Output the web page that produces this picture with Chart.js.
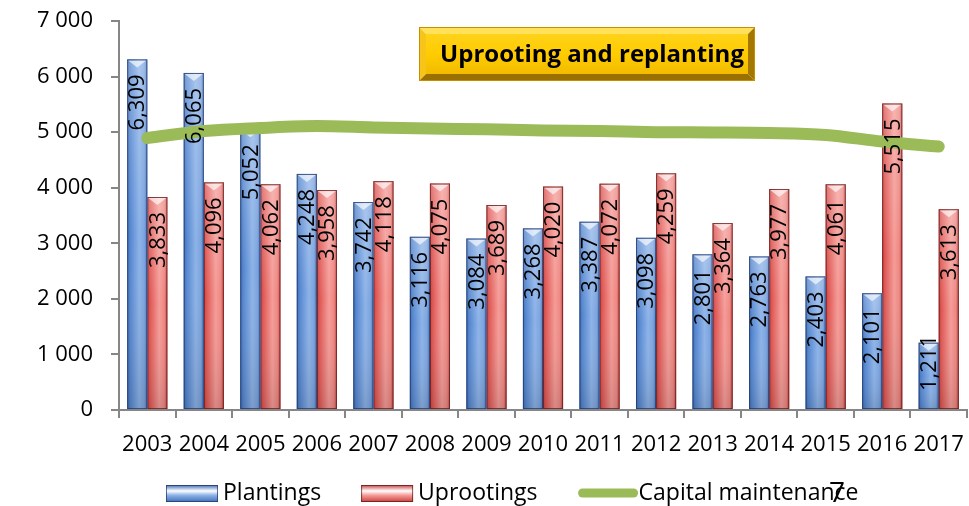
<!DOCTYPE html>
<html>
<head>
<meta charset="utf-8">
<script src="https://cdn.jsdelivr.net/npm/chart.js@4/dist/chart.umd.min.js"></script>
<style>
  html, body { margin: 0; padding: 0; background: #fff; }
  #wrap { width: 969px; height: 506px; }
</style>
</head>
<body>
<div id="wrap"><canvas id="graph" width="969" height="506"></canvas></div>
<script>
var ctx = document.getElementById('graph').getContext('2d');

const years = ['2003', '2004', '2005', '2006', '2007', '2008', '2009', '2010', '2011', '2012', '2013', '2014', '2015', '2016', '2017'];
const plantings = [6309, 6065, 5052, 4248, 3742, 3116, 3084, 3268, 3387, 3098, 2801, 2763, 2403, 2101, 1211];
const uprootings = [3833, 4096, 4062, 3958, 4118, 4075, 3689, 4020, 4072, 4259, 3364, 3977, 4061, 5515, 3613];
const capitalMaintenance = [4895, 5020, 5075, 5110, 5085, 5065, 5050, 5030, 5020, 5000, 4995, 4985, 4950, 4830, 4740];
const titleText = 'Uprooting and replanting';
const pageNumber = '7';

const FONT = '"Open Sans", "DejaVu Sans", sans-serif';

const barShades = {
    blue: { h: ['#3F6DB5', '#5587D0', '#8DB3E8', '#7CA4DE', '#4C78BE'], edge: 'rgba(30,50,100,0.7)' },
    red: { h: ['#C9403D', '#E05A56', '#F59C98', '#EE8782', '#C44A47'], edge: 'rgba(90,20,20,0.7)' }
};

function fmtThousands(v) {
    return String(v).replace(/\B(?=(\d{3})+(?!\d))/g, ' ');
}
function fmtComma(v) {
    return String(v).replace(/\B(?=(\d{3})+(?!\d))/g, ',');
}

// paints the glossy look over the bars chart.js has drawn
const barStyle = {
    id: 'barStyle',
    afterDatasetDraw(chart, args) {
        const meta = args.meta;
        if (meta.type !== 'bar') return;
        const shade = barShades[chart.data.datasets[args.index].shade];
        const c = chart.ctx;
        c.save();
        meta.data.forEach(function (el) {
            const x0 = el.x - el.width / 2, x1 = el.x + el.width / 2;
            const top = el.y, base = el.base;
            const g = c.createLinearGradient(x0, 0, x1, 0);
            [0, 0.15, 0.6, 0.85, 1].forEach(function (s, i) { g.addColorStop(s, shade.h[i]); });
            c.fillStyle = g;
            c.fillRect(x0, top, el.width, base - top);
            const v = c.createLinearGradient(0, top, 0, base);
            v.addColorStop(0, 'rgba(255,255,255,0.25)');
            v.addColorStop(0.5, 'rgba(255,255,255,0)');
            v.addColorStop(1, 'rgba(0,0,0,0.12)');
            c.fillStyle = v;
            c.fillRect(x0, top, el.width, base - top);
            // small bevel at top
            c.fillStyle = 'rgba(255,255,255,0.65)';
            c.beginPath();
            c.moveTo(x0 + 1, top + 1);
            c.lineTo(x1 - 1, top + 1);
            c.lineTo(el.x, top + 8);
            c.closePath();
            c.fill();
            c.strokeStyle = shade.edge;
            c.lineWidth = 1;
            c.strokeRect(x0 + 0.5, top + 0.5, el.width - 1, base - top - 1);
        });
        c.restore();
    },
    afterDatasetsDraw(chart) {
        const c = chart.ctx;
        c.save();
        c.font = '22px ' + FONT;
        c.fillStyle = '#000';
        c.textAlign = 'right';
        c.textBaseline = 'middle';
        chart.data.datasets.forEach(function (ds, di) {
            const meta = chart.getDatasetMeta(di);
            if (meta.type !== 'bar') return;
            meta.data.forEach(function (el, i) {
                const txt = fmtComma(ds.data[i]);
                const w = c.measureText(txt).width;
                let end = el.y + 15;
                if (end + w > el.base - 18) end = el.base - 18 - w;
                c.save();
                c.translate(el.x + 1, end);
                c.rotate(-Math.PI / 2);
                c.fillText(txt, 0, 0);
                c.restore();
            });
        });
        c.restore();
    }
};

const titleBox = {
    id: 'titleBox',
    afterDraw(chart) {
        const c = chart.ctx;
        const x = 419, y = 27, w = 336, h = 54, b = 7;
        c.save();
        function poly(pts, col) {
            c.fillStyle = col;
            c.beginPath();
            c.moveTo(pts[0][0], pts[0][1]);
            for (let i = 1; i < pts.length; i++) c.lineTo(pts[i][0], pts[i][1]);
            c.closePath();
            c.fill();
        }
        poly([[x, y], [x + w, y], [x + w - b, y + b], [x + b, y + b]], '#FFE25A');
        poly([[x, y], [x + b, y + b], [x + b, y + h - b], [x, y + h]], '#F7C51A');
        poly([[x + w, y], [x + w, y + h], [x + w - b, y + h - b], [x + w - b, y + b]], '#A47800');
        poly([[x, y + h], [x + b, y + h - b], [x + w - b, y + h - b], [x + w, y + h]], '#9A7000');
        const g = c.createLinearGradient(0, y + b, 0, y + h - b);
        g.addColorStop(0, '#FFD21A');
        g.addColorStop(0.5, '#FFCC00');
        g.addColorStop(1, '#F2BB00');
        c.fillStyle = g;
        c.fillRect(x + b, y + b, w - 2 * b, h - 2 * b);
        c.strokeStyle = '#C58F00';
        c.lineWidth = 1;
        c.strokeRect(x + 0.5, y + 0.5, w - 1, h - 1);
        c.fillStyle = '#000';
        c.font = 'bold 24px ' + FONT;
        c.textAlign = 'center';
        c.textBaseline = 'middle';
        c.fillText(titleText, x + w / 2 + 5, y + h / 2 + 1);
        c.restore();
    }
};

const bottomLegend = {
    id: 'bottomLegend',
    afterDraw(chart) {
        const c = chart.ctx;
        const cy = 493;
        let x = 166;
        c.save();
        c.font = '23px ' + FONT;
        c.textBaseline = 'middle';
        c.textAlign = 'left';
        chart.data.datasets.forEach(function (ds) {
            if (ds.type === 'line') {
                c.strokeStyle = ds.borderColor;
                c.lineWidth = 9;
                c.lineCap = 'round';
                c.beginPath();
                c.moveTo(x + 5, cy);
                c.lineTo(x + 56, cy);
                c.stroke();
                x += 61;
            } else {
                const shade = barShades[ds.shade];
                const g = c.createLinearGradient(0, cy - 8, 0, cy + 9);
                g.addColorStop(0, shade.h[0]);
                g.addColorStop(0.35, '#FFFFFF');
                g.addColorStop(0.6, shade.h[2]);
                g.addColorStop(1, shade.h[0]);
                c.fillStyle = g;
                c.fillRect(x, cy - 8, 52, 17);
                c.strokeStyle = shade.edge;
                c.lineWidth = 1;
                c.strokeRect(x + 0.5, cy - 7.5, 51, 16);
                x += 57;
            }
            c.fillStyle = '#000';
            c.fillText(ds.label, x, cy);
            x += c.measureText(ds.label).width + 40;
        });
        c.font = '28px ' + FONT;
        c.fillText(pageNumber, 829, 494);
        c.restore();
    }
};

var myGraph = new Chart(ctx, {
    type: 'bar',
    data: {
        labels: years,
        datasets: [
            {
                label: 'Plantings',
                data: plantings,
                backgroundColor: '#6F9BDB',
                shade: 'blue',
                order: 1
            },
            {
                label: 'Uprootings',
                data: uprootings,
                backgroundColor: '#EE7D79',
                shade: 'red',
                order: 1
            },
            {
                type: 'line',
                label: 'Capital maintenance',
                data: capitalMaintenance,
                borderColor: '#9BBB59',
                backgroundColor: '#9BBB59',
                borderWidth: 12,
                borderCapStyle: 'round',
                borderJoinStyle: 'round',
                pointRadius: 0,
                tension: 0.4,
                cubicInterpolationMode: 'monotone',
                order: 0
            }
        ]
    },
    plugins: [barStyle, titleBox, bottomLegend],
    options: {
        responsive: false,
        animation: false,
        categoryPercentage: 0.71,
        barPercentage: 1.0,
        layout: {
            padding: { left: 0, right: 2, top: 21, bottom: 0 }
        },
        plugins: {
            legend: { display: false },
            title: { display: false },
            tooltip: { enabled: false }
        },
        scales: {
            x: {
                grid: {
                    display: true,
                    drawOnChartArea: false,
                    drawTicks: true,
                    tickLength: 8,
                    color: '#868686',
                    lineWidth: 2
                },
                border: { display: true, color: '#868686', width: 2 },
                ticks: {
                    color: '#000',
                    padding: 14,
                    maxRotation: 0,
                    font: { family: FONT, size: 22 }
                },
                afterFit: function (scale) {
                    scale.height = 96;
                    scale.paddingLeft = 0;
                    scale.paddingRight = 0;
                }
            },
            y: {
                min: 0,
                max: 7000,
                grid: {
                    display: true,
                    drawOnChartArea: false,
                    drawTicks: true,
                    tickLength: 8,
                    color: '#868686',
                    lineWidth: 2
                },
                border: { display: true, color: '#868686', width: 2 },
                ticks: {
                    stepSize: 1000,
                    color: '#000',
                    padding: 18,
                    font: { family: FONT, size: 22 },
                    callback: function (v) { return fmtThousands(v); }
                },
                afterFit: function (scale) {
                    scale.width = 119;
                    scale.paddingTop = 0;
                    scale.paddingBottom = 0;
                }
            }
        }
    }
});
</script>
</body>
</html>
